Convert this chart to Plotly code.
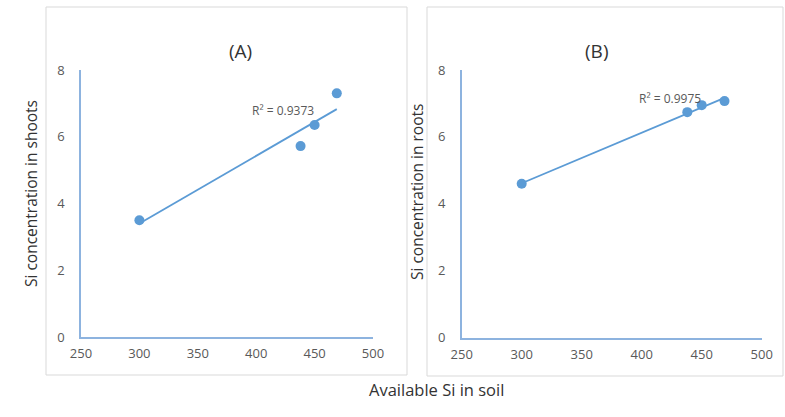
import numpy as np
import plotly.graph_objects as go

W, H = 785, 417

# Data
soil_si = [300, 438, 450, 469]
shoots_si = [3.5, 5.72, 6.35, 7.3]
roots_si = [4.6, 6.74, 6.95, 7.07]
x_ticks = [250, 300, 350, 400, 450, 500]
y_ticks = [0, 2, 4, 6, 8]
r2_labels = ["R² = 0.9373", "R² = 0.9975"]
panel_titles = ["(A)", "(B)"]
y_titles = ["Si concentration in shoots", "Si concentration in roots"]
x_title = "Available Si in soil"

MARK = "#5b9bd5"
AXIS = "#8db3df"
TXT = "#595959"
FONT = "Open Sans, Liberation Sans, sans-serif"

def px(x):
    return x / W

def py(y):
    return 1 - y / H

fig = go.Figure()

for i, ys in enumerate([shoots_si, roots_si]):
    xa = "x" if i == 0 else "x2"
    ya = "y" if i == 0 else "y2"
    xs = np.array(soil_si, dtype=float)
    coef = np.polyfit(xs, np.array(ys, dtype=float), 1)
    xl = np.array([xs.min(), xs.max()])
    fig.add_trace(go.Scatter(x=xl, y=np.polyval(coef, xl), mode="lines",
                             line=dict(color=MARK, width=1.8),
                             xaxis=xa, yaxis=ya, showlegend=False, hoverinfo="skip"))
    fig.add_trace(go.Scatter(x=soil_si, y=ys, mode="markers",
                             marker=dict(color=MARK, size=10),
                             xaxis=xa, yaxis=ya, showlegend=False))

axcommon = dict(range=[250, 500], tickvals=x_ticks, showgrid=False, zeroline=False,
                showline=True, linecolor=AXIS, linewidth=1.5, automargin=False,
                tickfont=dict(family=FONT, size=13, color=TXT),
                ticks="outside", ticklen=4, tickcolor="rgba(0,0,0,0)")
aycommon = dict(range=[0, 8], tickvals=y_ticks, showgrid=False, zeroline=False,
                showline=True, linecolor=AXIS, linewidth=1.5, automargin=False,
                tickfont=dict(family=FONT, size=13, color=TXT),
                ticks="outside", ticklen=12, tickcolor="rgba(0,0,0,0)")

fig.update_layout(
    width=W, height=H, autosize=False,
    margin=dict(l=0, r=0, t=0, b=0, pad=0),
    paper_bgcolor="white", plot_bgcolor="white",
    xaxis=dict(domain=[px(81), px(373)], anchor="y", **axcommon),
    yaxis=dict(domain=[py(337), py(70)], anchor="x", **aycommon),
    xaxis2=dict(domain=[px(461.7), px(761.7)], anchor="y2", **axcommon),
    yaxis2=dict(domain=[py(337.7), py(70)], anchor="x2", **aycommon),
)

# Panel frames
for (x0, y0, x1, y1) in [(46, 7, 407, 375), (427, 7, 783, 376)]:
    fig.add_shape(type="rect", xref="paper", yref="paper",
                  x0=px(x0), x1=px(x1), y0=py(y1), y1=py(y0),
                  line=dict(color="#d9d9d9", width=1), layer="below")

ann = []
# R² labels
ann.append(dict(x=423, y=6.8, xref="x", yref="y", text=r2_labels[0], showarrow=False,
                font=dict(family=FONT, size=12, color=TXT)))
ann.append(dict(x=423.6, y=7.16, xref="x2", yref="y2", text=r2_labels[1], showarrow=False,
                font=dict(family=FONT, size=12, color=TXT)))
# Panel titles
ann.append(dict(x=px(227), y=py(36), xref="paper", yref="paper", text=panel_titles[0],
                showarrow=False, font=dict(family=FONT, size=19, color="#333333")))
ann.append(dict(x=px(610), y=py(36), xref="paper", yref="paper", text=panel_titles[1],
                showarrow=False, font=dict(family=FONT, size=19, color="#333333")))
# Y titles
ann.append(dict(x=px(18), y=py(194), xref="paper", yref="paper", text=y_titles[0],
                showarrow=False, textangle=-90, font=dict(family=FONT, size=15.5, color="#333333")))
ann.append(dict(x=px(417), y=py(192), xref="paper", yref="paper", text=y_titles[1],
                showarrow=False, textangle=-90, font=dict(family=FONT, size=15.5, color="#333333")))
# X title
ann.append(dict(x=px(436), y=py(403), xref="paper", yref="paper", text=x_title,
                showarrow=False, font=dict(family=FONT, size=16.5, color="#333333")))
fig.update_layout(annotations=ann)

fig.write_html("out.html", config=dict(responsive=False, displayModeBar=False),
               post_script="document.body.style.margin='0';document.body.style.overflow='hidden';")
